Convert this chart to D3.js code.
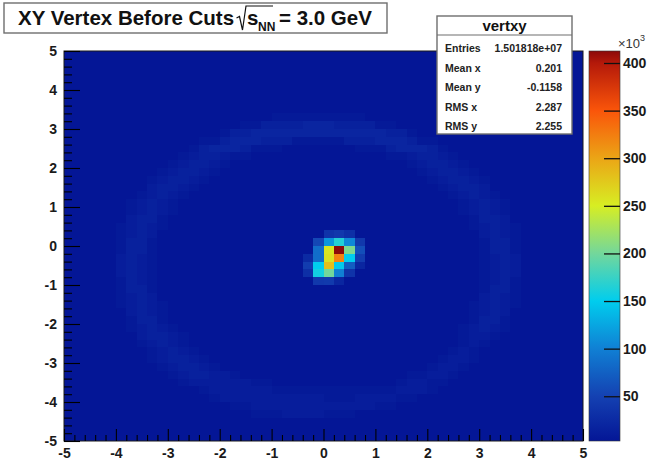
<!DOCTYPE html>
<html>
<head>
<meta charset="utf-8">
<script src="https://cdn.jsdelivr.net/npm/d3@7"></script>
<style>
  html, body { margin: 0; padding: 0; background: #fff; }
  svg { display: block; font-family: "Liberation Sans", Arial, Helvetica, sans-serif; }
</style>
</head>
<body>
<svg id="chart" width="655" height="463"></svg>
<script>
// ---- Histogram binning (vertex x, y) ----
const xRange = [-5, 5];
const yRange = [-5, 5];
const nBinsX = 50;
const nBinsY = 50;

// Target-ring counts: one string per y row, from the top row (y = 5) down to y = -5.
// Each character is an index into ringLevelCounts.
const ringLevelCounts = [3000, 7000, 11000, 15000, 19500];
const ringRows = [
  "00000000000000000000000000000000000000000000000000",
  "00000000000000000000000000000000000000000000000000",
  "00000000000000000000000000000000000000000000000000",
  "00000000000000000000000000000000000000000000000000",
  "00000000000000000000000000000000000000000000000000",
  "00000000000000000000000000000000000000000000000000",
  "00000000000000000000000000000000000000000000000000",
  "00000000000000000000000000000000000000000000000000",
  "00000000000000000000111111111000000000000000000000",
  "00000000000000000113333444333311000000000000000000",
  "00000000000000013344444444444443310000000000000000",
  "00000000000001134443331111133344431100000000000000",
  "00000000000013444311100000001113444310000000000000",
  "00000000000123321100000000000001123321000000000000",
  "00000000001233210000000000000000012332100000000000",
  "00000000012332100000000000000000001233210000000000",
  "00000000123321000000000000000000000123321000000000",
  "00000000233210000000000000000000000012332000000000",
  "00000001232100000000000000000000000001232100000000",
  "00000012321000000000000000000000000000123210000000",
  "00000012321000000000000000000000000000123210000000",
  "00000023310000000000000000000000000000013320000000",
  "00000123210000000000000000000000000000012321000000",
  "00000123200000000000000000000000000000002321000000",
  "00000133100000000000000000000000000000001331000000",
  "00000133100000000000000000000000000000001331000000",
  "00000232100000000000000000000000000000001232000000",
  "00000232100000000000000000000000000000001232000000",
  "00000232100000000000000000000000000000001232000000",
  "00000132100000000000000000000000000000001231000000",
  "00000133100000000000000000000000000000001331000000",
  "00000123200000000000000000000000000000002321000000",
  "00000123210000000000000000000000000000012321000000",
  "00000023210000000000000000000000000000012320000000",
  "00000013310000000000000000000000000000013310000000",
  "00000012321000000000000000000000000000123210000000",
  "00000002332100000000000000000000000000122100000000",
  "00000001232100000000000000000000000000121000000000",
  "00000000123210000000000000000000000001210000000000",
  "00000000123321000000000000000000000012210000000000",
  "00000000012332100000000000000000000122100000000000",
  "00000000001233221000000000000000011221000000000000",
  "00000000000122222211000000000000122110000000000000",
  "00000000000001222222111111111111222100000000000000",
  "00000000000000122222222221112222110000000000000000",
  "00000000000000001122222222222211000000000000000000",
  "00000000000000000011122221110000000000000000000000",
  "00000000000000000000000000000000000000000000000000",
  "00000000000000000000000000000000000000000000000000",
  "00000000000000000000000000000000000000000000000000"
];

// Beam-spot bins: [x low edge, y low edge, counts]
const spotBins = [
  [0.0, 0.2, 35000], [0.2, 0.2, 40000], [0.4, 0.2, 30000],
  [-0.2, 0.0, 55000], [0.0, 0.0, 115000], [0.2, 0.0, 165000], [0.4, 0.0, 105000], [0.6, 0.0, 40000],
  [-0.2, -0.2, 85000], [0.0, -0.2, 255000], [0.2, -0.2, 412600], [0.4, -0.2, 205000], [0.6, -0.2, 60000],
  [-0.4, -0.4, 25000], [-0.2, -0.4, 85000], [0.0, -0.4, 258000], [0.2, -0.4, 322000], [0.4, -0.4, 150000], [0.6, -0.4, 45000],
  [-0.4, -0.6, 45000], [-0.2, -0.6, 150000], [0.0, -0.6, 282000], [0.2, -0.6, 148000], [0.4, -0.6, 72000], [0.6, -0.6, 20000],
  [-0.4, -0.8, 30000], [-0.2, -0.8, 158000], [0.0, -0.8, 200000], [0.2, -0.8, 100000], [0.4, -0.8, 35000],
  [-0.2, -1.0, 40000], [0.0, -1.0, 42000], [0.2, -1.0, 20000]
];

// Palette: counts -> colour
const zStops = [3000, 50000, 100000, 150000, 200000, 250000, 300000, 350000, 400000, 412600];
const zColors = ["rgb(4,22,150)", "rgb(20,65,178)", "rgb(16,128,212)", "rgb(0,205,238)",
                 "rgb(115,215,155)", "rgb(215,238,35)", "rgb(235,165,22)", "rgb(250,85,10)",
                 "rgb(180,25,10)", "rgb(140,10,10)"];

// Axis tick labels
const xTickValues = [-5, -4, -3, -2, -1, 0, 1, 2, 3, 4, 5];
const yTickValues = [-5, -4, -3, -2, -1, 0, 1, 2, 3, 4, 5];
const zTickValues = [50000, 100000, 150000, 200000, 250000, 300000, 350000, 400000];

// Title and statistics box text
const histName = "vertxy";
const statLabels = ["Entries", "Mean x", "Mean y", "RMS x", "RMS y"];
const statValues = ["1.501818e+07", "0.201", "-0.1158", "2.287", "2.255"];

// ---- Build bin table ----
const bw = (xRange[1] - xRange[0]) / nBinsX;
const bh = (yRange[1] - yRange[0]) / nBinsY;
const cells = [];
ringRows.forEach((row, r) => {
  for (let c = 0; c < nBinsX; c++) {
    cells.push({
      x0: xRange[0] + c * bw,
      y0: yRange[1] - (r + 1) * bh,
      z: ringLevelCounts[+row[c]]
    });
  }
});
spotBins.forEach(([xl, yl, z]) => {
  const c = Math.round((xl - xRange[0]) / bw);
  const r = Math.round((yRange[1] - (yl + bh)) / bh);
  cells[r * nBinsX + c].z = z;
});

// ---- Layout ----
const svg = d3.select("#chart");
const plot = { left: 64, right: 583, top: 51, bottom: 441 };
const bar = { left: 589, right: 620 };

const x = d3.scaleLinear().domain(xRange).range([plot.left, plot.right]);
const y = d3.scaleLinear().domain(yRange).range([plot.bottom, plot.top]);
const zMin = d3.min(cells, d => d.z);
const zMax = d3.max(cells, d => d.z);
const color = d3.scaleLinear().domain(zStops).range(zColors).interpolate(d3.interpolateRgb).clamp(true);
const zAxisScale = d3.scaleLinear().domain([zMin, zMax]).range([plot.bottom, plot.top]);

// ---- Bins ----
svg.append("g")
  .attr("shape-rendering", "crispEdges")
  .selectAll("rect")
  .data(cells)
  .join("rect")
  .attr("x", d => x(d.x0))
  .attr("y", d => y(d.y0 + bh))
  .attr("width", d => x(d.x0 + bw) - x(d.x0))
  .attr("height", d => y(d.y0) - y(d.y0 + bh))
  .attr("fill", d => color(d.z));

// Frame
svg.append("rect")
  .attr("x", plot.left).attr("y", plot.top)
  .attr("width", plot.right - plot.left).attr("height", plot.bottom - plot.top)
  .attr("fill", "none").attr("stroke", "#1a1a1a").attr("stroke-width", 1);

// ---- Axes ----
const tickFmt = d => String(d);
function styleAxis(g) {
  g.select(".domain").remove();
  g.selectAll(".tick line").attr("stroke", "#000").attr("stroke-width", 1.1);
  g.selectAll(".tick text")
    .attr("fill", "#1a1a1a")
    .attr("font-size", 14)
    .attr("font-weight", "bold")
    .attr("font-family", "'Liberation Sans', Arial, sans-serif");
}
const minorX = d3.range(0, nBinsX + 1).map(i => xRange[0] + i * bw).filter(v => Math.abs(v - Math.round(v)) > 1e-6);
const minorY = d3.range(0, nBinsY + 1).map(i => yRange[0] + i * bh).filter(v => Math.abs(v - Math.round(v)) > 1e-6);

svg.append("g").attr("transform", `translate(0,${plot.bottom})`)
  .call(d3.axisBottom(x).tickValues(minorX).tickSizeInner(-6).tickSizeOuter(0).tickFormat(""))
  .call(styleAxis);
svg.append("g").attr("transform", `translate(0,${plot.bottom})`)
  .call(d3.axisBottom(x).tickValues(xTickValues).tickSizeInner(-12).tickSizeOuter(0).tickPadding(7).tickFormat(tickFmt))
  .call(styleAxis);

svg.append("g").attr("transform", `translate(${plot.left},0)`)
  .call(d3.axisLeft(y).tickValues(minorY).tickSizeInner(-8).tickSizeOuter(0).tickFormat(""))
  .call(styleAxis);
svg.append("g").attr("transform", `translate(${plot.left},0)`)
  .call(d3.axisLeft(y).tickValues(yTickValues).tickSizeInner(-16).tickSizeOuter(0).tickPadding(7).tickFormat(tickFmt))
  .call(styleAxis);

// ---- Colour bar ----
const defs = svg.append("defs");
const grad = defs.append("linearGradient")
  .attr("id", "zgrad").attr("x1", 0).attr("y1", 1).attr("x2", 0).attr("y2", 0);
grad.selectAll("stop")
  .data(zStops)
  .join("stop")
  .attr("offset", d => (d - zMin) / (zMax - zMin))
  .attr("stop-color", d => color(d));
svg.append("rect")
  .attr("x", bar.left).attr("y", plot.top)
  .attr("width", bar.right - bar.left).attr("height", plot.bottom - plot.top)
  .attr("fill", "url(#zgrad)")
  .attr("stroke", "#333").attr("stroke-width", 0.6);

svg.append("g").attr("transform", `translate(${bar.right},0)`)
  .call(d3.axisRight(zAxisScale).tickValues(zTickValues).tickSizeInner(-16).tickSizeOuter(0).tickPadding(3)
    .tickFormat(d => String(d / 1000)))
  .call(styleAxis)
  .call(g => g.selectAll(".tick line").attr("stroke", "#111").attr("stroke-width", 1.3));

const expo = svg.append("text").attr("x", 618).attr("y", 48)
  .attr("font-size", 13).attr("fill", "#333");
expo.append("tspan").text("\u00d710");
expo.append("tspan").attr("dy", -7).attr("font-size", 9).text("3");

// ---- Title box ----
svg.append("rect")
  .attr("x", 4).attr("y", 3).attr("width", 383).attr("height", 30)
  .attr("fill", "#fff").attr("stroke", "#6e6e6e").attr("stroke-width", 1.4);
const title = svg.append("g").attr("font-weight", "bold").attr("fill", "#111");
title.append("text").attr("x", 18).attr("y", 25).attr("font-size", 20.5).text("XY Vertex Before Cuts");
title.append("path")
  .attr("d", "M236.5,18 L239.5,16.5 L242.5,30 L246,6 L273,6")
  .attr("fill", "none").attr("stroke", "#111").attr("stroke-width", 1.2);
title.append("text").attr("x", 247).attr("y", 25).attr("font-size", 20.5).text("s");
title.append("text").attr("x", 258).attr("y", 31).attr("font-size", 12).text("NN");
title.append("text").attr("x", 279).attr("y", 25).attr("font-size", 20.5).text("= 3.0 GeV");

// ---- Statistics box ----
const stats = { x: 437, y: 16, w: 135, h: 118, head: 35 };
svg.append("rect")
  .attr("x", stats.x).attr("y", stats.y).attr("width", stats.w).attr("height", stats.h)
  .attr("fill", "#fff").attr("stroke", "#6e6e6e").attr("stroke-width", 1.4);
svg.append("line")
  .attr("x1", stats.x).attr("x2", stats.x + stats.w)
  .attr("y1", stats.head).attr("y2", stats.head)
  .attr("stroke", "#6e6e6e").attr("stroke-width", 1.2);
svg.append("text")
  .attr("x", stats.x + stats.w / 2).attr("y", 31)
  .attr("text-anchor", "middle").attr("font-size", 15).attr("font-weight", "bold").attr("fill", "#111")
  .text(histName);
const rowY = [52, 71.5, 91, 110.5, 130];
svg.append("g").selectAll("text")
  .data(statLabels)
  .join("text")
  .attr("x", 445).attr("y", (d, i) => rowY[i])
  .attr("font-size", 10.5).attr("font-weight", "bold").attr("fill", "#222")
  .text(d => d);
svg.append("g").selectAll("text")
  .data(statValues)
  .join("text")
  .attr("x", 562).attr("y", (d, i) => rowY[i])
  .attr("text-anchor", "end")
  .attr("font-size", 10.5).attr("font-weight", "bold").attr("fill", "#222")
  .text(d => d);
</script>
</body>
</html>
